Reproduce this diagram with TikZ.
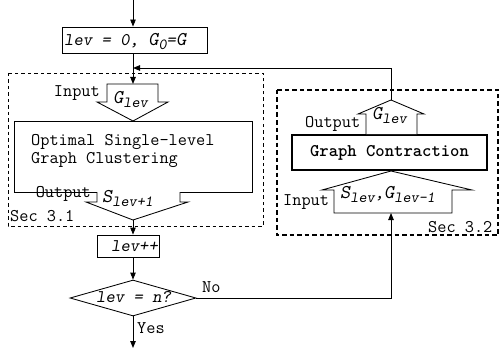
\documentclass[tikz,border=0pt]{standalone}
\usetikzlibrary{arrows.meta,shapes.geometric}
% variable letters and their subscripts
\newcommand\bigvar[1]{{\fontsize{19.5}{19.5}\selectfont\slshape #1}}
\newcommand\subvar[1]{\raisebox{-4pt}{\fontsize{15.5}{15.5}\selectfont\slshape #1}}
\newcommand\txt{\ttfamily\fontsize{17.8}{20}\selectfont}

\begin{document}
\begin{tikzpicture}[x=1pt,y=-1pt,
  every node/.style={font=\txt, inner sep=0pt},
  wire/.style={line width=0.85pt},
  flow/.style={wire,-{Triangle[length=7pt,width=5.5pt]}},
  procbox/.style={draw, line width=0.85pt},
  blockarrow/.style={draw, line width=0.85pt, fill=white, line join=miter},
  secbox/.style={draw, line width=0.9pt, dash pattern=on 3.5pt off 3pt},
  secboxthick/.style={draw, line width=2.3pt, dash pattern=on 4.5pt off 3pt},
]
\useasboundingbox (0,0) rectangle (500,350);

% section frames
\draw[secbox] (8,73) rectangle (263,226);
\draw[secboxthick] (277,90) rectangle (498,235);

% ---------------- left column ----------------
\coordinate (start) at (133,0);
\node[procbox, minimum width=145, minimum height=26] (init) at (134.5,40) {};
\node[anchor=base west] (initText) at (64,46)
  {{\slshape lev = 0, }\bigvar{G}\subvar{0}{\slshape =}\bigvar{G}};

\coordinate (ginTop) at (133,84);
\node[procbox, minimum width=238, minimum height=71] (cluster) at (133,156.5) {};
\node[anchor=base west] (clusterA) at (31,145) {Optimal Single-level};
\node[anchor=base west] (clusterB) at (31,163) {Graph Clustering};

% input block arrow G_lev
\draw[blockarrow] (107,84) -- (107,102) -- (97,102) -- (133,121) -- (168,102)
  -- (158,102) -- (158,84) -- cycle;
\node[anchor=base west] (ginText) at (113,104) {\bigvar{G}\subvar{lev}};
\node[anchor=base east] (ginLabel) at (100,97) {Input};

% output block arrow S_lev+1
\draw[blockarrow] (97,192) -- (97,202) -- (86,202) -- (133,220) -- (188,202)
  -- (180,202) -- (180,192);
\coordinate (soutTip) at (133,220);
\node[anchor=base west] (soutText) at (102,202) {\bigvar{S}\subvar{lev+1}};
\node[anchor=base east] (soutLabel) at (91,197) {Output};
\node[anchor=base west] (secA) at (10,221) {Sec 3.1};

\node[procbox, minimum width=62, minimum height=22] (inc) at (128,246) {};
\node[anchor=base west] (incText) at (111,251) {\slshape lev++};

\node[draw, diamond, wire, minimum width=126, minimum height=36, aspect=3.5] (test) at (133,298) {};
\node[anchor=base west] (testText) at (96,302) {\slshape lev = n?};
\coordinate (finish) at (133,348);
\node[anchor=base west] (yes) at (137,333) {Yes};
\node[anchor=base west] (no) at (202,292) {No};

% ---------------- right column ----------------
\node[draw, line width=2pt, minimum width=195, minimum height=35] (contract) at (389.5,152.5)
  {\bfseries Graph Contraction};

% output block arrow G_lev
\draw[blockarrow] (366,134) -- (366,114) -- (358,114) -- (391,100) -- (424,114)
  -- (417,114) -- (417,134);
\coordinate (goutTip) at (391,100);
\node[anchor=base west] (goutText) at (372,120) {\bigvar{G}\subvar{lev}};
\node[anchor=base west] (goutLabel) at (305,128) {Output};

% input block arrow S_lev, G_lev-1
\draw[blockarrow] (334,213) -- (334,190) -- (322,190) -- (391,171) -- (472,190)
  -- (452,190) -- (452,213) -- cycle;
\coordinate (sgBottom) at (391,213);
\node[anchor=base west] (sgText) at (340,198)
  {\bigvar{S}\subvar{lev}{\slshape ,}\bigvar{G}\subvar{lev-1}};
\node[anchor=base west] (sgLabel) at (283,205) {Input};
\node[anchor=base west] (secB) at (428,232) {Sec 3.2};

% ---------------- connectors ----------------
\coordinate (join) at (133,68);
\draw[flow] (start) -- (start |- init.north);
\draw[flow] (ginTop |- init.south) -- (ginTop);
\draw[flow] (goutTip) |- (join);
\draw[flow] (soutTip) -- (soutTip |- inc.north);
\draw[flow] (inc.south -| test.north) -- (test.north);
\draw[flow] (test.south) -- (finish);
\draw[flow] (test.east) -| (sgBottom);
\end{tikzpicture}
\end{document}
